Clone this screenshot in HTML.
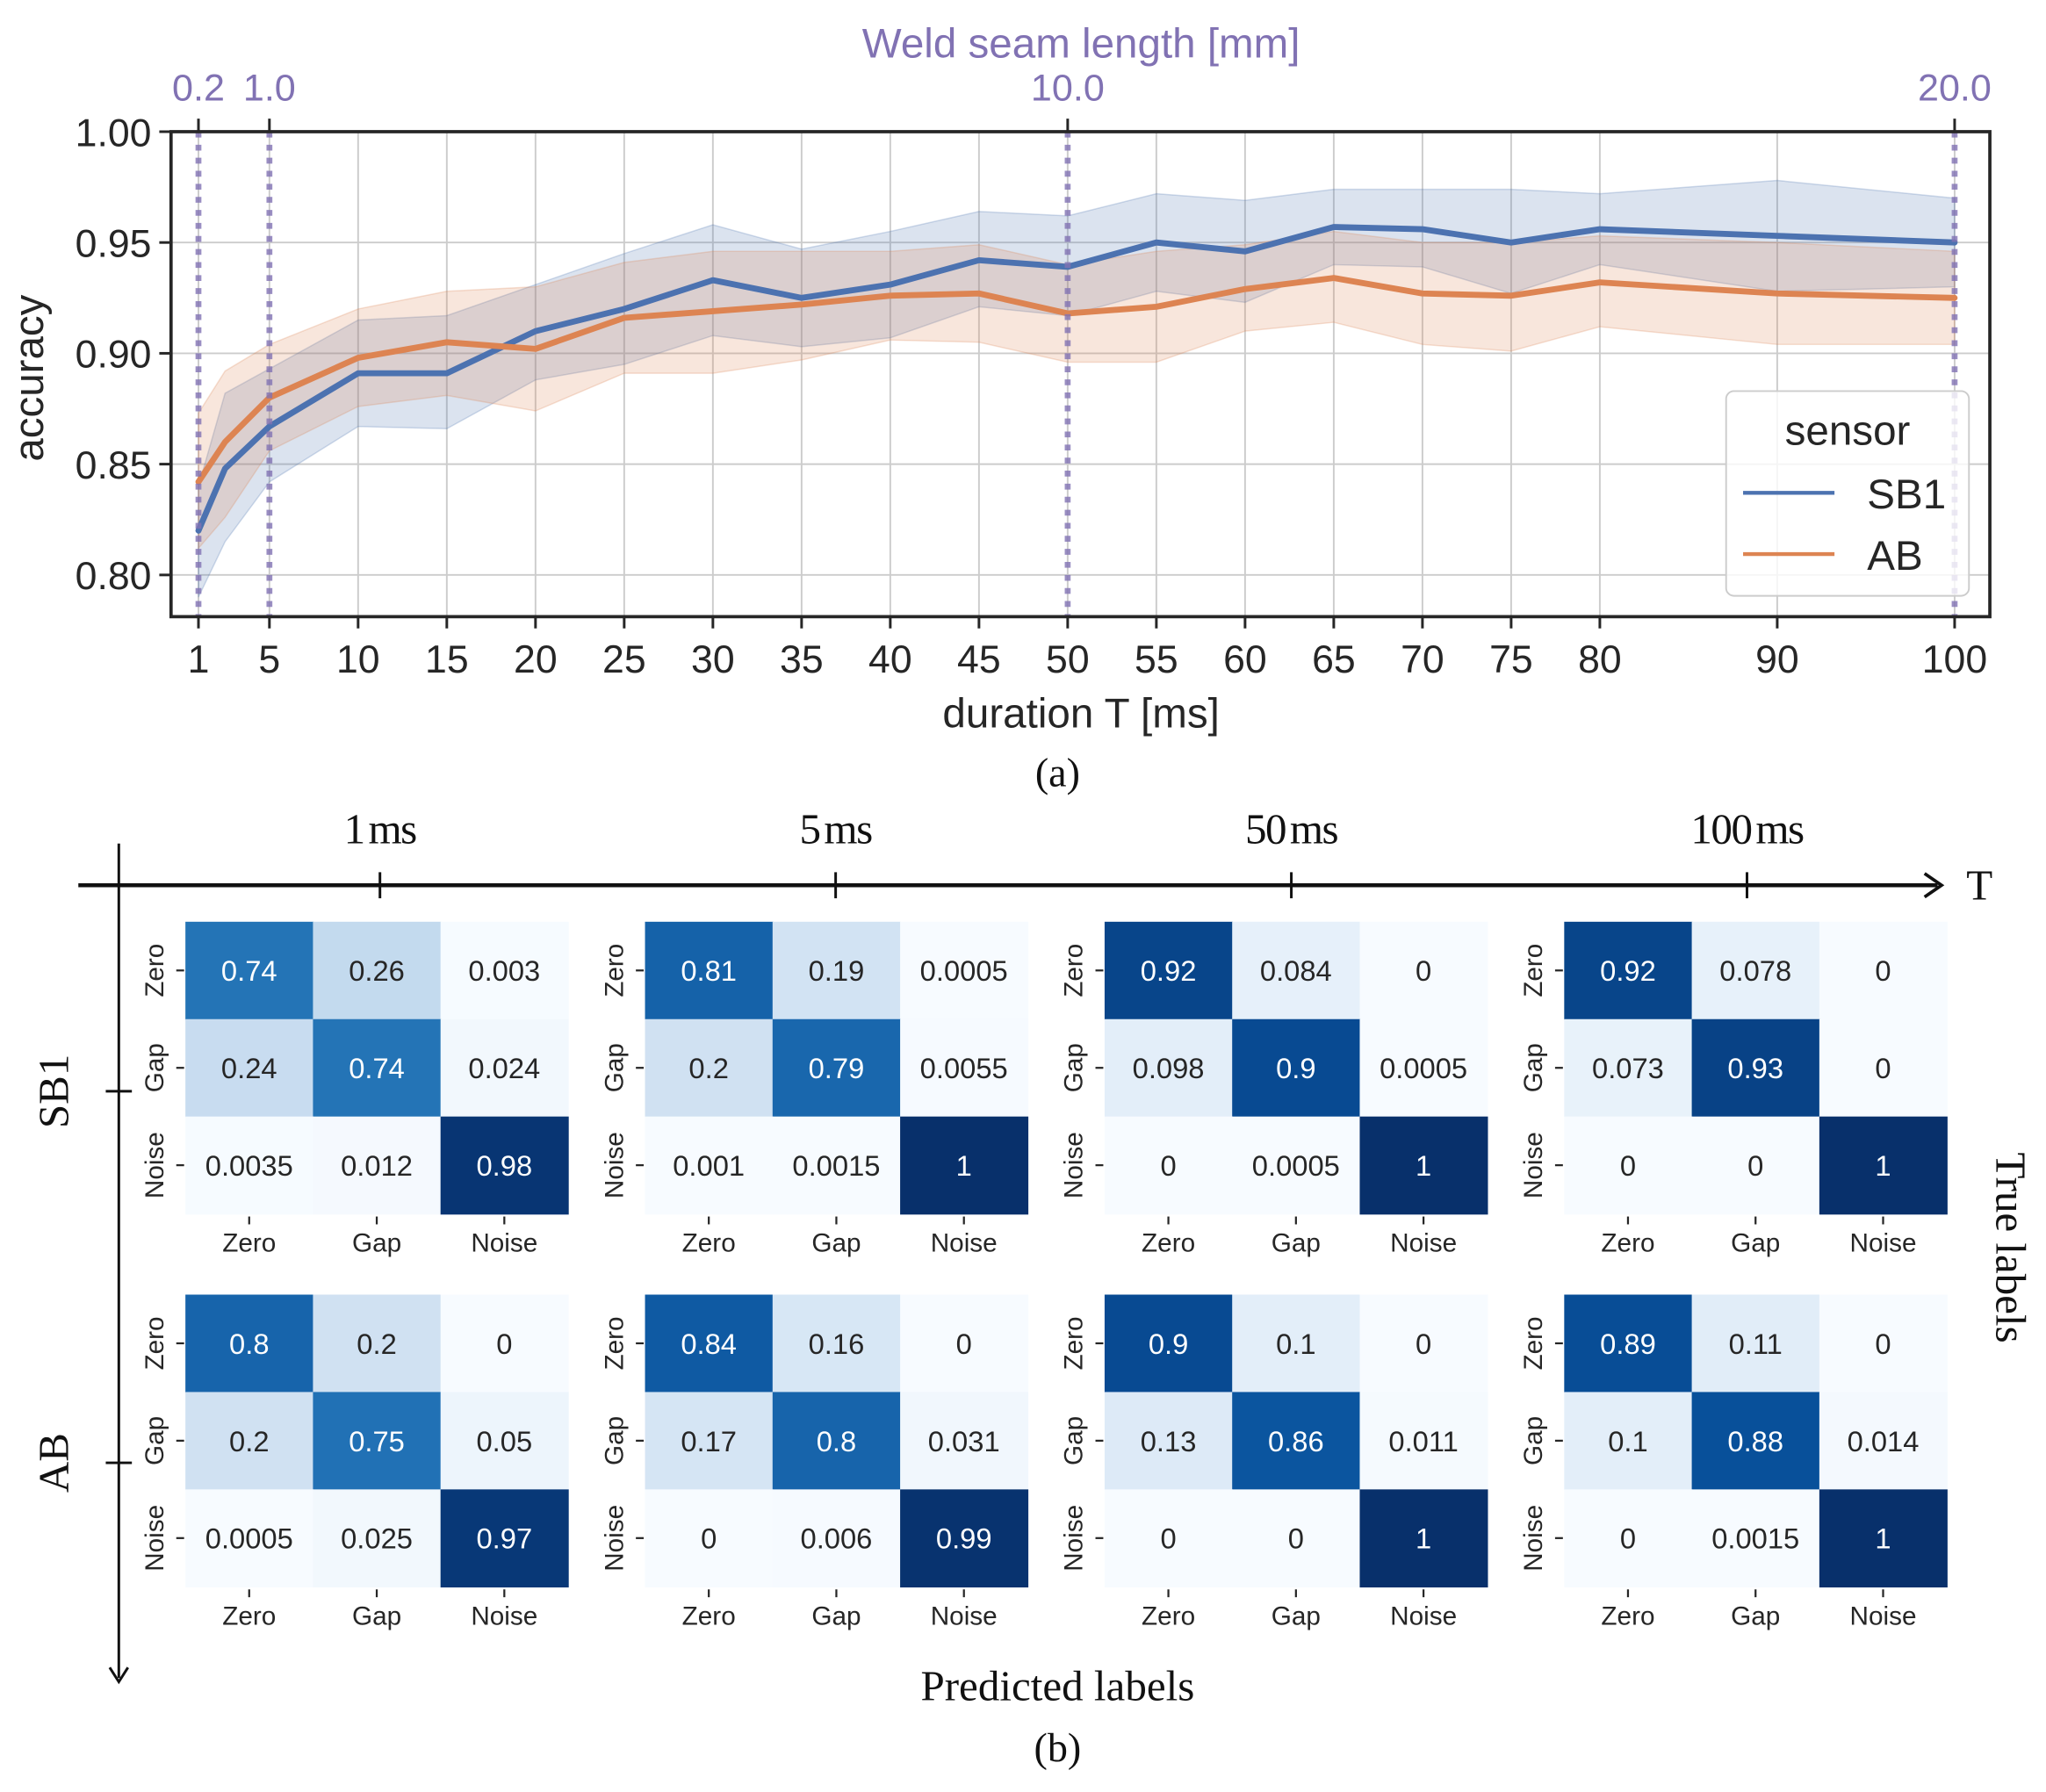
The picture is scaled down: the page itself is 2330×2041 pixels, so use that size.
<!DOCTYPE html>
<html><head><meta charset="utf-8">
<style>
html,body{margin:0;padding:0;background:#fff;}
svg{display:block;}
.sans{font-family:"Liberation Sans",sans-serif;}
.serif{font-family:"Liberation Serif",serif;}
</style></head>
<body>
<svg id="fig" width="2330" height="2041" viewBox="0 0 1567 1374.5" preserveAspectRatio="none" xmlns="http://www.w3.org/2000/svg">
<g id="chartA"></g>
<g id="chartB"></g>
</svg>
<script>
// ---------- chart (a) data ----------
const durations = [1, 2.5, 5, 10, 15, 20, 25, 30, 35, 40, 45, 50, 55, 60, 65, 70, 75, 80, 90, 100];
const sb1Mean = [0.820,0.848,0.867,0.891,0.891,0.910,0.920,0.933,0.925,0.931,0.942,0.939,0.950,0.946,0.957,0.956,0.950,0.956,0.953,0.950];
const sb1Upper = [0.840,0.882,0.893,0.915,0.917,0.931,0.945,0.958,0.947,0.955,0.964,0.962,0.972,0.969,0.974,0.974,0.974,0.972,0.978,0.970];
const sb1Lower = [0.790,0.815,0.842,0.867,0.866,0.888,0.895,0.908,0.903,0.907,0.921,0.917,0.928,0.923,0.940,0.939,0.927,0.940,0.928,0.930];
const abMean = [0.842,0.860,0.880,0.898,0.905,0.902,0.916,0.919,0.922,0.926,0.927,0.918,0.921,0.929,0.934,0.927,0.926,0.932,0.927,0.925];
const abUpper = [0.873,0.892,0.904,0.920,0.928,0.930,0.941,0.946,0.946,0.946,0.949,0.940,0.946,0.949,0.955,0.950,0.950,0.953,0.950,0.946];
const abLower = [0.812,0.826,0.856,0.876,0.881,0.874,0.891,0.891,0.897,0.906,0.905,0.896,0.896,0.910,0.914,0.904,0.901,0.912,0.904,0.904];
const xTicks = [1,5,10,15,20,25,30,35,40,45,50,55,60,65,70,75,80,90,100];
const yTicks = [0.80,0.85,0.90,0.95,1.00];
const topTickPos = [1,5,50,100];
const topTickLabels = ["0.2","1.0","10.0","20.0"];

// ---------- chart (b) data ----------
const classes = ["Zero","Gap","Noise"];
const durationLabels = ["1 ms","5 ms","50 ms","100 ms"];
const sensors = ["SB1","AB"];
const sb1Matrices = [
 [[0.74,0.26,0.003],[0.24,0.74,0.024],[0.0035,0.012,0.98]],
 [[0.81,0.19,0.0005],[0.2,0.79,0.0055],[0.001,0.0015,1]],
 [[0.92,0.084,0],[0.098,0.9,0.0005],[0,0.0005,1]],
 [[0.92,0.078,0],[0.073,0.93,0],[0,0,1]]
];
const abMatrices = [
 [[0.8,0.2,0],[0.2,0.75,0.05],[0.0005,0.025,0.97]],
 [[0.84,0.16,0],[0.17,0.8,0.031],[0,0.006,0.99]],
 [[0.9,0.1,0],[0.13,0.86,0.011],[0,0,1]],
 [[0.89,0.11,0],[0.1,0.88,0.014],[0,0.0015,1]]
];

const NS="http://www.w3.org/2000/svg";
function mk(parent,tag,attrs,text){const e=document.createElementNS(NS,tag);for(const k in attrs)e.setAttribute(k,attrs[k]);if(text!==undefined)e.textContent=text;parent.appendChild(e);return e;}

// ---------- draw chart (a) ----------
(function(){
 const g=document.getElementById('chartA');
 const L=131,R=1524,T=101,B=473;
 const X=v=>152+(v-1)*13.586;
 const Y=v=>101+(1.0-v)*1700;
 xTicks.forEach(t=>{const l=mk(g,'line',{x1:X(t),x2:X(t),y1:T,y2:B,stroke:'#cccccc','stroke-width':1.3});
  
  });
 yTicks.forEach(t=>{const l=mk(g,'line',{x1:L,x2:R,y1:Y(t),y2:Y(t),stroke:'#cccccc','stroke-width':1.3});
  
  });
 const clip=mk(g,'clipPath',{id:'plotclip'});mk(clip,'rect',{x:L,y:T,width:R-L,height:B-T});
 const pg=mk(g,'g',{'clip-path':'url(#plotclip)'});
 function band(up,lo,color,name){
  let d='M'+durations.map((x,i)=>X(x)+','+Y(up[i])).join('L');
  d+='L'+durations.map((x,i)=>[X(x),Y(lo[i])]).reverse().map(p=>p.join(',')).join('L')+'Z';
  const p=mk(pg,'path',{d:d,fill:color,'fill-opacity':0.2,stroke:color,'stroke-opacity':0.25,'stroke-width':1});
  
  
 }
 function line(vals,color,name){
  const d='M'+durations.map((x,i)=>X(x)+','+Y(vals[i])).join('L');
  const p=mk(pg,'path',{d:d,fill:'none',stroke:color,'stroke-width':4.6,'stroke-linejoin':'round','stroke-linecap':'round'});
  
  
 }
 band(sb1Upper,sb1Lower,'#4c72b0','sb1-confidence-band');
 band(abUpper,abLower,'#dd8452','ab-confidence-band');
 line(sb1Mean,'#4c72b0','sb1-line');
 line(abMean,'#dd8452','ab-line');
 topTickPos.forEach(t=>{const l=mk(g,'line',{x1:X(t),x2:X(t),y1:T,y2:B,stroke:'#8172b3','stroke-opacity':0.8,'stroke-width':4.5,'stroke-dasharray':'4.5 5.5'});
  
  });
 const lg=mk(g,'g',{});
 
 
 mk(lg,'rect',{x:1322,y:300,width:186,height:157,rx:6,fill:'#ffffff','fill-opacity':0.8,stroke:'#cccccc','stroke-width':1.3});
 mk(lg,'text',{x:1415,y:341,'text-anchor':'middle','font-size':32,fill:'#262626',class:'sans'},'sensor');
 const e1=mk(lg,'g',{});
 mk(e1,'line',{x1:1335,x2:1405,y1:378,y2:378,stroke:'#4c72b0','stroke-width':3});
 mk(e1,'text',{x:1430,y:390,'font-size':32,fill:'#262626',class:'sans'},'SB1');
 const e2=mk(lg,'g',{});
 mk(e2,'line',{x1:1335,x2:1405,y1:425,y2:425,stroke:'#dd8452','stroke-width':3});
 mk(e2,'text',{x:1430,y:437,'font-size':32,fill:'#262626',class:'sans'},'AB');
 const fr=mk(g,'rect',{x:L,y:T,width:R-L,height:B-T,fill:'none',stroke:'#262626','stroke-width':2.5});
 
 xTicks.forEach(t=>{mk(g,'line',{x1:X(t),x2:X(t),y1:B,y2:B+9,stroke:'#262626','stroke-width':2});
  const tx=mk(g,'text',{x:X(t),y:516,'text-anchor':'middle','font-size':30,fill:'#262626',class:'sans'},String(t));
  });
 yTicks.forEach(t=>{mk(g,'line',{x1:L-9,x2:L,y1:Y(t),y2:Y(t),stroke:'#262626','stroke-width':2});
  const tx=mk(g,'text',{x:L-15,y:Y(t)+11,'text-anchor':'end','font-size':30,fill:'#262626',class:'sans'},t.toFixed(2));
  });
 topTickPos.forEach((t,i)=>{mk(g,'line',{x1:X(t),x2:X(t),y1:T-10,y2:T,stroke:'#262626','stroke-width':2});
  const tx=mk(g,'text',{x:X(t),y:77,'text-anchor':'middle','font-size':29,fill:'#8172b3',class:'sans'},topTickLabels[i]);
  });
 let t;
 t=mk(g,'text',{x:828,y:44,'text-anchor':'middle','font-size':32,fill:'#8172b3',class:'sans'},'Weld seam length [mm]');
 
 t=mk(g,'text',{x:828,y:558,'text-anchor':'middle','font-size':32,fill:'#262626',class:'sans'},'duration T [ms]');
 
 t=mk(g,'text',{x:0,y:0,transform:'translate(33,290) rotate(-90)','text-anchor':'middle','font-size':32,fill:'#262626',class:'sans'},'accuracy');
 
 t=mk(g,'text',{x:810,y:603,'text-anchor':'middle','font-size':31,fill:'#111',class:'serif'},'(a)');
 
})();

// ---------- draw chart (b) ----------
(function(){
 const g=document.getElementById('chartB');
 const stops=[[247,251,255],[222,235,247],[198,219,239],[158,202,225],[107,174,214],[66,146,198],[33,113,181],[8,81,156],[8,48,107]];
 function blues(v){v=Math.max(0,Math.min(1,v));const p=v*8,i=Math.min(7,Math.floor(p)),f=p-i;
  const c=stops[i].map((a,k)=>Math.round(a+(stops[i+1][k]-a)*f));return 'rgb('+c.join(',')+')';}
 const mx0=[142,494,846,1198], my0=[707,993], cw=97.7, ch=74.7;
 const tickX=[291,640,989,1338];
 let e=mk(g,'line',{x1:60,x2:1484,y1:679,y2:679,stroke:'#111','stroke-width':3});
 
 mk(g,'path',{d:'M1474,670 L1487,679 L1474,688',fill:'none',stroke:'#111','stroke-width':2.5});
 e=mk(g,'text',{x:1506,y:690,'font-size':33,fill:'#111',class:'serif'},'T');
 
 durationLabels.forEach((lab,i)=>{mk(g,'line',{x1:tickX[i],x2:tickX[i],y1:669,y2:689,stroke:'#111','stroke-width':2});
  const t=mk(g,'text',{x:tickX[i],y:647,'text-anchor':'middle','font-size':33,'letter-spacing':-1,'word-spacing':-4,fill:'#111',class:'serif'},lab);
  });
 e=mk(g,'line',{x1:91,x2:91,y1:647,y2:1287,stroke:'#111','stroke-width':2});
 
 mk(g,'path',{d:'M84,1279 L91,1290 L98,1279',fill:'none',stroke:'#111','stroke-width':2});
 const sy=[837,1122];
 sensors.forEach((s,i)=>{mk(g,'line',{x1:81,x2:101,y1:sy[i],y2:sy[i],stroke:'#111','stroke-width':2});
  const t=mk(g,'text',{x:0,y:0,transform:'translate(52,'+sy[i]+') rotate(-90)','text-anchor':'middle','font-size':33,fill:'#111',class:'serif'},s);
  });
 e=mk(g,'text',{x:0,y:0,transform:'translate(1529,957) rotate(90)','text-anchor':'middle','font-size':33,fill:'#111',class:'serif'},'True labels');
 
 e=mk(g,'text',{x:810,y:1304,'text-anchor':'middle','font-size':33,fill:'#111',class:'serif'},'Predicted labels');
 
 e=mk(g,'text',{x:810,y:1351,'text-anchor':'middle','font-size':31,fill:'#111',class:'serif'},'(b)');
 
 [sb1Matrices,abMatrices].forEach((mats,si)=>{
  mats.forEach((m,mi)=>{
   const hg=mk(g,'g',{});
   
   
   const x0=mx0[mi],y0=my0[si];
   for(let r=0;r<3;r++)for(let c=0;c<3;c++){
    const v=m[r][c];
    const cell=mk(hg,'rect',{x:x0+c*cw,y:y0+r*ch,width:cw+0.5,height:ch+0.5,fill:blues(v)});
    
    
    const t=mk(hg,'text',{x:x0+c*cw+cw/2,y:y0+r*ch+ch/2+8,'text-anchor':'middle','font-size':22,fill:v>0.5?'#ffffff':'#262626',class:'sans'},String(v));
    
    
   }
   classes.forEach((cl,k)=>{
    const cy=y0+k*ch+ch/2;
    mk(hg,'line',{x1:x0-7,x2:x0-1,y1:cy,y2:cy,stroke:'#262626','stroke-width':1.5});
    const t=mk(hg,'text',{x:0,y:0,transform:'translate('+(x0-17)+','+cy+') rotate(-90)','text-anchor':'middle','font-size':20,fill:'#262626',class:'sans'},cl);
    
    const cx=x0+k*cw+cw/2;
    mk(hg,'line',{x1:cx,x2:cx,y1:y0+3*ch+2,y2:y0+3*ch+8,stroke:'#262626','stroke-width':1.5});
    const t2=mk(hg,'text',{x:cx,y:y0+3*ch+29,'text-anchor':'middle','font-size':20,fill:'#262626',class:'sans'},cl);
    
   });
  });
 });
})();
</script>
</body></html>
